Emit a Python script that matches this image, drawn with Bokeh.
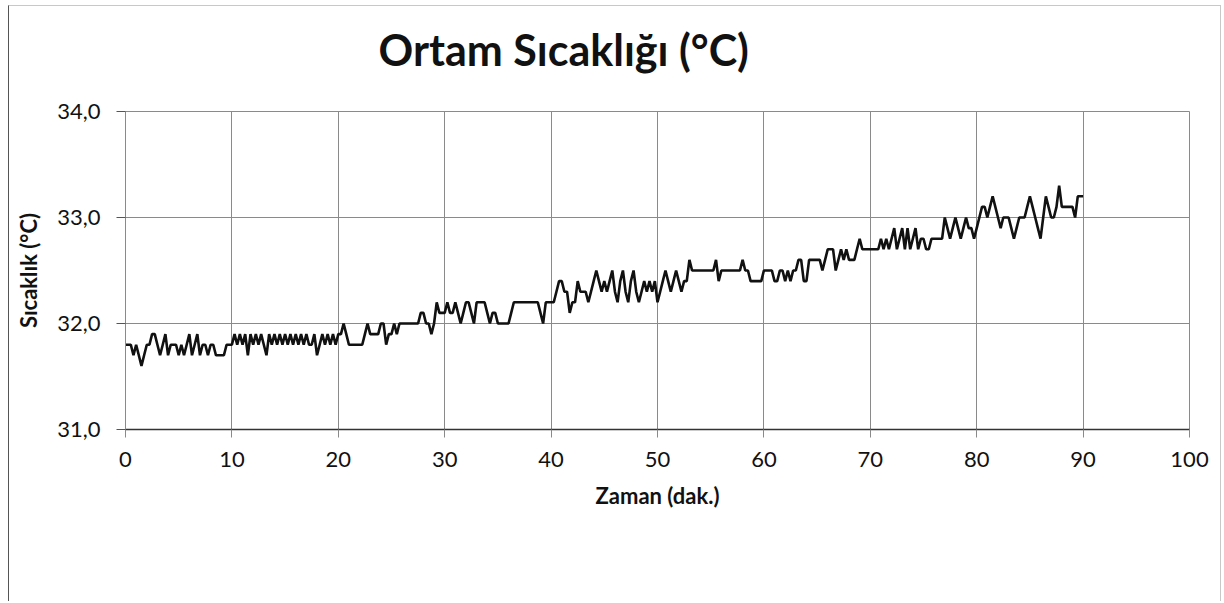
from bokeh.plotting import figure
from bokeh.models import Range1d, FixedTicker, ColumnDataSource, Title
from bokeh.embed import file_html
from bokeh.resources import INLINE

# ---- data ----
TITLE = "Ortam Sıcaklığı (°C)"
X_LABEL = "Zaman (dak.)"
Y_LABEL = "Sıcaklık (°C)"

x_ticks = [0, 10, 20, 30, 40, 50, 60, 70, 80, 90, 100]
y_ticks = [31, 32, 33, 34]
y_tick_labels = ["31,0", "32,0", "33,0", "34,0"]

sample_step_min = 0.25  # one reading every 15 s

temp_00_10 = [31.8, 31.8, 31.8, 31.7, 31.8, 31.7, 31.6, 31.7, 31.8, 31.8,
              31.9, 31.9, 31.8, 31.7, 31.8, 31.9, 31.7, 31.8, 31.8, 31.8,
              31.7, 31.8, 31.7, 31.8, 31.9, 31.7, 31.8, 31.9, 31.7, 31.8,
              31.8, 31.7, 31.8, 31.8, 31.7, 31.7, 31.7, 31.7, 31.8, 31.8]
temp_10_20 = [31.8, 31.9, 31.8, 31.9, 31.8, 31.9, 31.7, 31.9, 31.8, 31.9,
              31.8, 31.9, 31.8, 31.7, 31.9, 31.8, 31.9, 31.8, 31.9, 31.8,
              31.9, 31.8, 31.9, 31.8, 31.9, 31.8, 31.9, 31.8, 31.9, 31.8,
              31.8, 31.9, 31.7, 31.8, 31.9, 31.8, 31.9, 31.8, 31.9, 31.8]
temp_20_30 = [31.9, 31.9, 32.0, 31.9, 31.8, 31.8, 31.8, 31.8, 31.8, 31.8,
              31.9, 32.0, 31.9, 31.9, 31.9, 31.9, 32.0, 32.0, 31.8, 31.9,
              31.9, 32.0, 31.9, 32.0, 32.0, 32.0, 32.0, 32.0, 32.0, 32.0,
              32.0, 32.1, 32.1, 32.0, 32.0, 31.9, 32.0, 32.2, 32.1, 32.1]
temp_30_40 = [32.1, 32.2, 32.1, 32.1, 32.2, 32.1, 32.0, 32.1, 32.2, 32.2,
              32.1, 32.0, 32.2, 32.2, 32.2, 32.2, 32.1, 32.0, 32.1, 32.1,
              32.0, 32.0, 32.0, 32.0, 32.0, 32.1, 32.2, 32.2, 32.2, 32.2,
              32.2, 32.2, 32.2, 32.2, 32.2, 32.2, 32.1, 32.0, 32.2, 32.2]
temp_40_50 = [32.2, 32.2, 32.3, 32.4, 32.4, 32.3, 32.3, 32.1, 32.2, 32.2,
              32.4, 32.3, 32.3, 32.3, 32.2, 32.3, 32.4, 32.5, 32.4, 32.3,
              32.4, 32.3, 32.4, 32.5, 32.3, 32.2, 32.4, 32.5, 32.3, 32.2,
              32.4, 32.5, 32.3, 32.2, 32.3, 32.4, 32.3, 32.4, 32.3, 32.4]
temp_50_60 = [32.2, 32.3, 32.4, 32.5, 32.4, 32.3, 32.4, 32.5, 32.4, 32.3,
              32.4, 32.4, 32.6, 32.5, 32.5, 32.5, 32.5, 32.5, 32.5, 32.5,
              32.5, 32.5, 32.6, 32.4, 32.5, 32.5, 32.5, 32.5, 32.5, 32.5,
              32.5, 32.5, 32.6, 32.5, 32.5, 32.4, 32.4, 32.4, 32.4, 32.4]
temp_60_70 = [32.5, 32.5, 32.5, 32.5, 32.4, 32.4, 32.5, 32.5, 32.4, 32.5,
              32.4, 32.5, 32.5, 32.6, 32.6, 32.4, 32.4, 32.6, 32.6, 32.6,
              32.6, 32.6, 32.5, 32.6, 32.7, 32.7, 32.7, 32.5, 32.6, 32.7,
              32.6, 32.7, 32.6, 32.6, 32.6, 32.7, 32.8, 32.7, 32.7, 32.7]
temp_70_80 = [32.7, 32.7, 32.7, 32.7, 32.8, 32.7, 32.8, 32.7, 32.8, 32.9,
              32.7, 32.8, 32.9, 32.7, 32.9, 32.7, 32.8, 32.9, 32.7, 32.8,
              32.8, 32.7, 32.7, 32.8, 32.8, 32.8, 32.8, 32.8, 33.0, 32.9,
              32.8, 32.9, 33.0, 32.9, 32.8, 32.9, 33.0, 32.9, 32.9, 32.8]
temp_80_90 = [32.9, 33.0, 33.1, 33.1, 33.0, 33.1, 33.2, 33.1, 33.0, 32.9,
              33.0, 33.0, 33.0, 32.9, 32.8, 32.9, 33.0, 33.0, 33.0, 33.1,
              33.2, 33.1, 33.0, 32.9, 32.8, 33.0, 33.2, 33.1, 33.0, 33.0,
              33.1, 33.3, 33.1, 33.1, 33.1, 33.1, 33.1, 33.0, 33.2, 33.2,
              33.2]

temperature = (temp_00_10 + temp_10_20 + temp_20_30 + temp_30_40 + temp_40_50
               + temp_50_60 + temp_60_70 + temp_70_80 + temp_80_90)
minutes = [i * sample_step_min for i in range(len(temperature))]

source = ColumnDataSource(dict(t=minutes, temp=temperature))

FONT = "Lato"
GRID = "#8a8a8a"

p = figure(width=1213, height=596, output_backend="svg", toolbar_location=None,
           x_range=Range1d(0, 100), y_range=Range1d(31, 34),
           title_location=None,
           min_border_left=116, min_border_right=33,
           min_border_top=105, min_border_bottom=173,
           background_fill_color="white", border_fill_color="white",
           outline_line_color=GRID, outline_line_width=1)
p.margin = (5, 0, 0, 8)

p.line("t", "temp", source=source, line_color="#111111", line_width=2.6)

# title: an invisible spacer next to the frame, then the real title above it
spacer = Title(text=" ", text_font=FONT, text_font_size="16px", standoff=4,
               text_color="white")
main_title = Title(text=TITLE, text_font=FONT, text_font_size="43px",
                   text_font_style="bold", text_color="#111111",
                   align="left", vertical_align="top", offset=253, standoff=20)
p.add_layout(spacer, "above")
p.add_layout(main_title, "above")

# axes
p.xaxis.ticker = FixedTicker(ticks=x_ticks)
p.yaxis.ticker = FixedTicker(ticks=y_ticks)
p.yaxis.major_label_overrides = {t: l for t, l in zip(y_ticks, y_tick_labels)}
p.xaxis.minor_tick_line_color = None
p.yaxis.minor_tick_line_color = None

for ax in (p.xaxis, p.yaxis):
    ax.major_label_text_font = FONT
    ax.major_label_text_font_size = "22px"
    ax.major_label_text_color = "#111111"
    ax.axis_label_text_font = FONT
    ax.axis_label_text_font_size = "22px"
    ax.axis_label_text_font_style = "bold"
    ax.axis_label_text_color = "#111111"

p.xaxis.axis_label = X_LABEL
p.yaxis.axis_label = Y_LABEL

p.xaxis.axis_line_color = "#333333"
p.xaxis.axis_line_width = 1.5
p.xaxis.major_tick_line_color = GRID
p.xaxis.major_tick_out = 8
p.xaxis.major_tick_in = 0
p.xaxis.major_label_standoff = 14
p.xaxis.axis_label_standoff = 12

p.yaxis.axis_line_color = GRID
p.yaxis.major_tick_line_color = "#555555"
p.yaxis.major_tick_out = 9
p.yaxis.major_tick_in = 0
p.yaxis.major_label_standoff = 16
p.yaxis.axis_label_standoff = 12

p.xgrid.grid_line_color = GRID
p.ygrid.grid_line_color = GRID
p.xgrid.grid_line_width = 1
p.ygrid.grid_line_width = 1

p.styles = {"border-left": "1px solid #555555", "border-top": "1px solid #c8c8c8",
            "border-right": "1px solid #c8c8c8"}

open("out.html", "w").write(file_html(p, INLINE))
